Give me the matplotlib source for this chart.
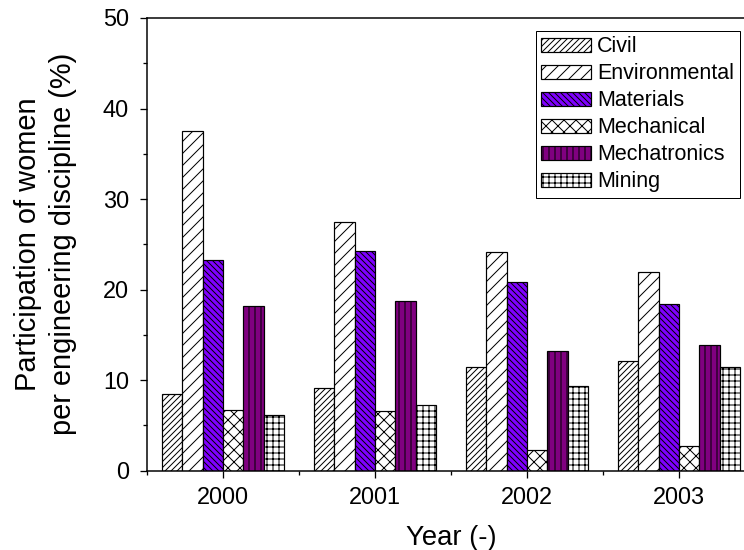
import matplotlib
matplotlib.use('Agg')
import matplotlib.pyplot as plt
import numpy as np

# Participation of women per engineering discipline (%)
years = [2000, 2001, 2002, 2003]
disciplines = ['Civil', 'Environmental', 'Materials', 'Mechanical', 'Mechatronics', 'Mining']
civil = [8.5, 9.1, 11.4, 12.1]
environmental = [37.5, 27.5, 24.1, 22.0]
materials = [23.3, 24.3, 20.8, 18.4]
mechanical = [6.7, 6.6, 2.3, 2.7]
mechatronics = [18.2, 18.7, 13.2, 13.9]
mining = [6.2, 7.3, 9.3, 11.4]

series = [civil, environmental, materials, mechanical, mechatronics, mining]
colors = ['white', 'white', '#7f00ff', 'white', '#800080', 'white']
hatches = ['////', '//', '\\\\\\\\', 'xx', '||', '++']

plt.rcParams['font.family'] = ['Liberation Sans', 'DejaVu Sans']
plt.rcParams['hatch.linewidth'] = 1.0

# at 72 dpi one point is one pixel, and the hatch spacing matches the original
DPI = 72
fig = plt.figure(figsize=(744 / DPI, 550 / DPI), dpi=DPI)
ax = fig.add_axes([147 / 744, 1 - 470.7 / 550, (755 - 147) / 744, (470.7 - 18) / 550])

width = 0.134
x = np.array(years, dtype=float)
for i, (vals, name) in enumerate(zip(series, disciplines)):
    offs = (i - 2.5) * width
    ax.bar(x + offs, vals, width, color=colors[i], hatch=hatches[i],
           edgecolor='black', linewidth=1.2, label=name)

ax.set_xlim(1999.5, 2003.5)
ax.set_ylim(0, 50)
ax.set_xticks(years)
ax.set_xticks([1999.5, 2000.5, 2001.5, 2002.5], minor=True)
ax.set_yticks(range(0, 51, 10))
ax.set_yticks(range(5, 50, 10), minor=True)
ax.tick_params(axis='both', which='major', direction='out', length=7, width=1.3,
               labelsize=23.5)
ax.tick_params(axis='x', which='major', pad=9)
ax.tick_params(axis='y', which='major', pad=11)
ax.tick_params(axis='both', which='minor', direction='out', length=4, width=1.3)
for sp in ax.spines.values():
    sp.set_linewidth(1.5)

ax.set_xlabel('Year (-)', fontsize=27.5, labelpad=16)
ax.set_ylabel('Participation of women\nper engineering discipline (%)', fontsize=29,
              labelpad=26, linespacing=1.3)

leg = ax.legend(loc='upper left', bbox_to_anchor=(536 / 744, 1 - 31 / 550),
                bbox_transform=fig.transFigure, borderaxespad=0, fontsize=21.5,
                frameon=True, fancybox=False, edgecolor='black', framealpha=1,
                handlelength=2.3, handleheight=0.67, handletextpad=0.3,
                labelspacing=0.28, borderpad=0.25)
leg.get_frame().set_linewidth(1.0)

fig.savefig('out.png', dpi=DPI)
